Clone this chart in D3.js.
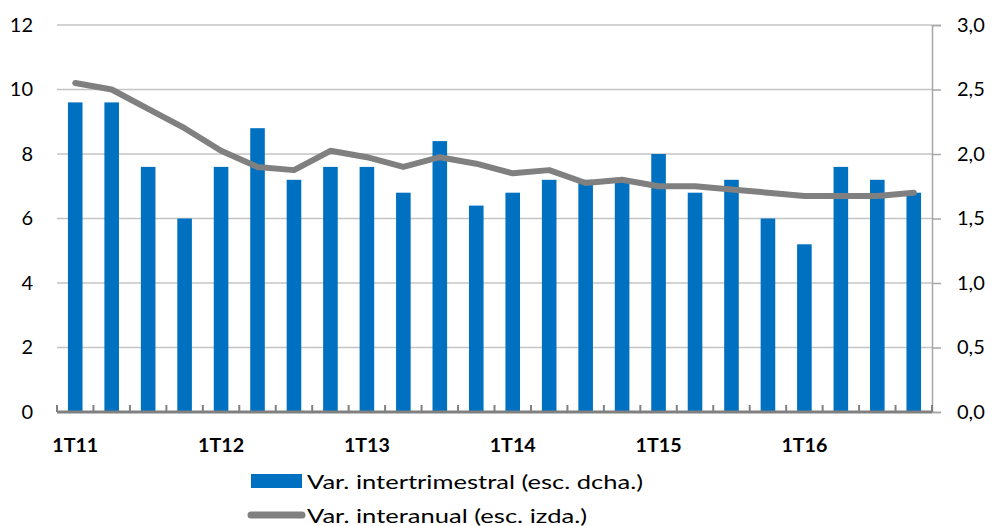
<!DOCTYPE html>
<html>
<head>
<meta charset="utf-8">
<script src="https://cdn.jsdelivr.net/npm/d3@7"></script>
<style>
  body { margin: 0; background: #fff; }
  text { font-family: Lato, "Open Sans", sans-serif; fill: #000; }
</style>
</head>
<body>
<svg width="994" height="526"></svg>
<script>
// datos
var quarters = ["1T11","2T11","3T11","4T11","1T12","2T12","3T12","4T12",
                "1T13","2T13","3T13","4T13","1T14","2T14","3T14","4T14",
                "1T15","2T15","3T15","4T15","1T16","2T16","3T16","4T16"];
var intertrimestral = [2.4, 2.4, 1.9, 1.5, 1.9, 2.2, 1.8, 1.9, 1.9, 1.7, 2.1, 1.6,
                       1.7, 1.8, 1.8, 1.8, 2.0, 1.7, 1.8, 1.5, 1.3, 1.9, 1.8, 1.7];
var interanual = [10.2, 10.0, 9.4, 8.8, 8.1, 7.6, 7.5, 8.1, 7.9, 7.6, 7.9, 7.7,
                  7.4, 7.5, 7.1, 7.2, 7.0, 7.0, 6.9, 6.8, 6.7, 6.7, 6.7, 6.8];
var leftTicks = [0, 2, 4, 6, 8, 10, 12];
var rightTicks = [0, 0.5, 1, 1.5, 2, 2.5, 3];
var shownLabels = ["1T11","1T12","1T13","1T14","1T15","1T16"];

var svg = d3.select("svg"),
    margin = {top: 25, right: 62, bottom: 114, left: 57},
    width = +svg.attr("width") - margin.left - margin.right,
    height = +svg.attr("height") - margin.top - margin.bottom;

var g = svg.append("g").attr("transform", "translate(" + margin.left + "," + margin.top + ")");

var x = d3.scaleBand().domain(quarters).range([0, width]).paddingInner(0.6).paddingOuter(0.3);
var xc = d3.scaleBand().domain(quarters).range([0, width]);
var yL = d3.scaleLinear().domain([0, 12]).range([height, 0]);
var yR = d3.scaleLinear().domain([0, 3]).range([height, 0]);

// gridlines
g.append("g")
    .selectAll("line")
    .data(leftTicks.filter(function (d) { return d > 0; }))
    .enter().append("line")
    .attr("x1", 0).attr("x2", width)
    .attr("y1", function (d) { return yL(d); })
    .attr("y2", function (d) { return yL(d); })
    .attr("stroke", "#c4c4c4").attr("stroke-width", 1.5);

// eje izquierdo (sin linea)
var leftAxis = g.append("g")
    .call(d3.axisLeft(yL).tickValues(leftTicks).tickSize(0).tickPadding(24));
leftAxis.select(".domain").remove();
leftAxis.selectAll("text").style("font-size", "20px");

// eje derecho
var rightAxis = g.append("g")
    .attr("transform", "translate(" + width + ",0)")
    .call(d3.axisRight(yR).tickValues(rightTicks).tickSize(9).tickPadding(16)
        .tickFormat(function (d) { return d3.format(".1f")(d).replace(".", ","); }));
rightAxis.select(".domain").attr("stroke", "#a6a6a6").attr("stroke-width", 1.5);
rightAxis.selectAll("line").attr("stroke", "#a6a6a6").attr("stroke-width", 1.5);
rightAxis.selectAll("text").style("font-size", "20px");

// barras
g.append("g")
    .selectAll("rect")
    .data(intertrimestral)
    .enter().append("rect")
    .attr("x", function (d, i) { return x(quarters[i]); })
    .attr("width", x.bandwidth())
    .attr("y", function (d) { return yR(d); })
    .attr("height", function (d) { return height - yR(d); })
    .attr("fill", "#0070c0");

// eje x
var bottom = g.append("g").attr("transform", "translate(0," + height + ")");
bottom.append("line")
    .attr("x1", 0).attr("x2", width)
    .attr("stroke", "#808080").attr("stroke-width", 3);
bottom.selectAll(".tk")
    .data(d3.range(quarters.length + 1))
    .enter().append("line")
    .attr("class", "tk")
    .attr("x1", function (d) { return d * xc.step(); })
    .attr("x2", function (d) { return d * xc.step(); })
    .attr("y1", 0).attr("y2", -7)
    .attr("stroke", "#808080").attr("stroke-width", 2);
bottom.selectAll(".lbl")
    .data(shownLabels)
    .enter().append("text")
    .attr("class", "lbl")
    .attr("x", function (d) { return xc(d) + xc.bandwidth() / 2; })
    .attr("y", 40)
    .attr("text-anchor", "middle")
    .attr("textLength", 46).attr("lengthAdjust", "spacingAndGlyphs")
    .style("font-size", "19px")
    .style("font-weight", "bold")
    .text(function (d) { return d; });

// linea
var line = d3.line()
    .x(function (d, i) { return xc(quarters[i]) + xc.bandwidth() / 2; })
    .y(function (d) { return yL(d); });
g.append("path")
    .datum(interanual)
    .attr("d", line)
    .attr("fill", "none")
    .attr("stroke", "#808080")
    .attr("stroke-width", 6)
    .attr("stroke-linejoin", "round")
    .attr("stroke-linecap", "round");

// leyenda
var legend = svg.append("g");
legend.append("rect")
    .attr("x", 251).attr("y", 474).attr("width", 51).attr("height", 14)
    .attr("fill", "#0070c0");
legend.append("text")
    .attr("x", 307).attr("y", 489)
    .style("font-size", "20px")
    .attr("textLength", 336).attr("lengthAdjust", "spacingAndGlyphs")
    .text("Var. intertrimestral (esc. dcha.)");
legend.append("line")
    .attr("x1", 251).attr("x2", 302).attr("y1", 515).attr("y2", 515)
    .attr("stroke", "#808080").attr("stroke-width", 7).attr("stroke-linecap", "round");
legend.append("text")
    .attr("x", 307).attr("y", 523)
    .style("font-size", "20px")
    .attr("textLength", 280).attr("lengthAdjust", "spacingAndGlyphs")
    .text("Var. interanual (esc. izda.)");
</script>
</body>
</html>
